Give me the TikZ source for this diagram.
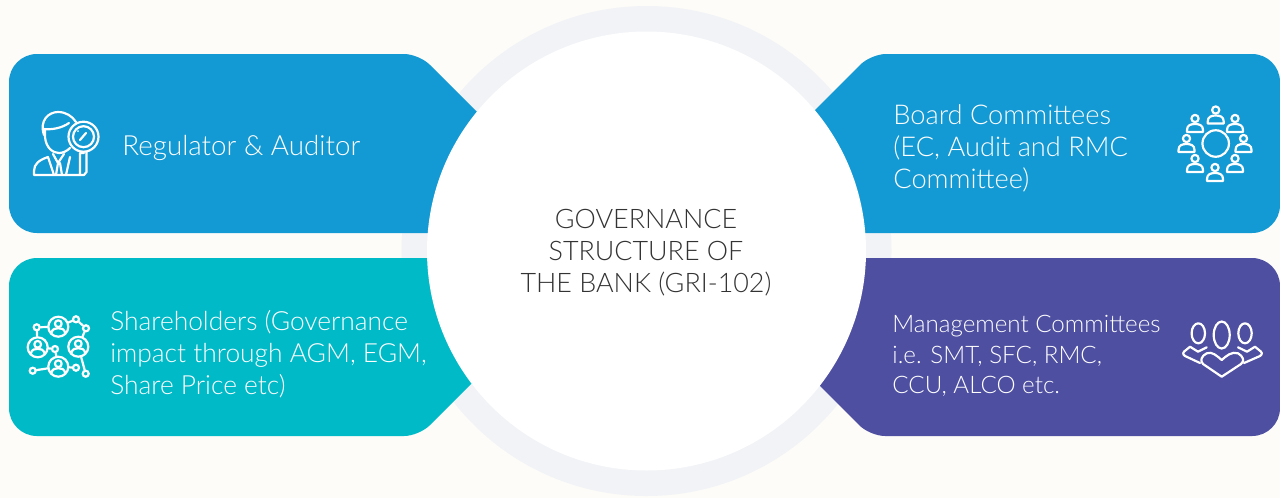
\documentclass[tikz,border=0pt]{standalone}
\usepackage{fontspec}
\setmainfont{Lato}[UprightFont=* Light]
\usetikzlibrary{positioning}
\definecolor{paper}{HTML}{FDFCF8}
\definecolor{ringgrey}{HTML}{F1F3F6}
\definecolor{panelblue}{HTML}{1399D3}
\definecolor{panelteal}{HTML}{00BAC8}
\definecolor{panelpurple}{HTML}{4E4FA1}
\definecolor{titleink}{HTML}{333333}
\tikzset{
  label/.style={text=white,align=left,anchor=west,inner sep=0pt,font=\fontsize{15.5}{18.2}\selectfont},
  title/.style={text=titleink,align=center,inner sep=0pt,font=\fontsize{15.3}{18.2}\selectfont},
  icon/.style={draw=white,line width=1.25pt,line join=round,line cap=round},
  hub/.style={circle,draw=white,line width=1.25pt,inner sep=0pt,minimum size=0.4cm},
  dot/.style={circle,draw=white,line width=1.25pt,inner sep=0pt,minimum size=0.12cm},
  badge/.pic={
    \draw[icon] (0,-3) circle (3.4);
    \draw[icon] (-7,6.5) .. controls (-6,2) and (-3,1.5) .. (0,1.5) .. controls (3,1.5) and (6,2) .. (7,6.5);
  },
  member/.pic={
    \draw[icon] (0,-5) circle (3.6);
    \draw[icon] (-8,8.5) -- (-8,6.5) .. controls (-8,1.5) and (-4,0.5) .. (0,0.5) .. controls (4,0.5) and (8,1.5) .. (8,6.5) -- (8,8.5) -- cycle;
  }
}
\begin{document}
\begin{tikzpicture}[x=0.02cm,y=-0.02cm]
  \useasboundingbox (0,0) rectangle (1280,498);
  \fill[paper] (0,0) rectangle (1280,498);
  \fill[ringgrey] (646.5,251) circle (245);

  \fill[panelblue] (200,233) [rounded corners=0.56cm] -- (9,233) -- (9,54) [rounded corners=0.3cm] -- (419,54) -- (520,155) [sharp corners] -- (520,233) -- cycle;
  \fill[panelteal] (200,258) [rounded corners=0.56cm] -- (9,258) -- (9,436) [rounded corners=0.3cm] -- (419,436) -- (520,335) [sharp corners] -- (520,258) -- cycle;
  \fill[panelblue] (1000,233) [rounded corners=0.56cm] -- (1280,233) -- (1280,54) [rounded corners=0.3cm] -- (871,54) -- (770,155) [sharp corners] -- (770,233) -- cycle;
  \fill[panelpurple] (1000,258) [rounded corners=0.56cm] -- (1280,258) -- (1280,436) [rounded corners=0.3cm] -- (870,436) -- (770,336) [sharp corners] -- (770,258) -- cycle;

  \fill[white] (646.5,251) circle (219.5);

  \node[title] (bank) at (646,252.5) {GOVERNANCE\\STRUCTURE OF\\THE BANK (GRI-102)};
  \node[label,font=\fontsize{15.8}{18.2}\selectfont] (regulator) at (122,147.5) {Regulator \& Auditor};
  \node[label,font=\fontsize{15}{18.2}\selectfont] (holders) at (110,354) {Shareholders (Governance\\impact through AGM, EGM,\\Share Price etc)};
  \node[label] (board) at (893,148.5) {Board Committees\\(EC, Audit and RMC\\Committee)};
  \node[label,font=\fontsize{13.75}{17.2}\selectfont] (management) at (892,356) {Management Committees\\i.e. SMT, SFC, RMC,\\CCU, ALCO etc.};

  \draw[icon] (44,135) .. controls (39,120) and (49,112) .. (58,112) .. controls (66,112) and (72,116) .. (76,122);
  \draw[icon] (43,129) .. controls (52,130) and (62,128) .. (69,123);
  \draw[icon] (45,129) -- (45,137) .. controls (46,148) and (53,153) .. (59,153) .. controls (63,153) and (67,151) .. (70,148);
  \draw[icon] (84,153) -- (80,153) -- (80,175) -- (34,175) -- (34,171) .. controls (34,164) and (39,160) .. (48,157) -- (54,175);
  \draw[icon] (86.5,152) -- (86.5,172) -- (84,175) -- (80,175);
  \draw[icon] (53,154) -- (58,163) -- (64,154) (58,163) -- (56,175) (60,163) -- (62,175) (70,157) -- (66,175);
  \draw[icon] (83.5,136.7) circle (15) (83.5,136.7) circle (10.5);
  \draw[icon] (80,140) -- (86,133);
  \fill[white] (78,131) circle (1);

  \foreach \name/\px/\py in {ha/58.3/326.7,hb/37.7/347.3,hc/78.3/346.7,hd/58.3/366.7}
    \node[hub] (\name) at (\px,\py) {};
  \foreach \name/\px/\py in {da/36.7/327.3,db/76/319.3,dc/86/328.3,dd/55/349,de/32.7/370.7,df/76/367.7,dg/85.7/373.7}
    \node[dot] (\name) at (\px,\py) {};
  \foreach \from/\to in {da/ha,ha/db,db/dc,dc/hc,da/hb,hb/dd,dd/hd,de/hd,hd/df,hc/dg}
    \draw[icon] (\from) -- (\to);
  \foreach \px/\py in {58.3/326.7,37.7/347.3,78.3/346.7,58.3/366.7}
    \pic at (\px,\py) {badge};

  \node[circle,draw=white,line width=1.25pt,inner sep=0pt,minimum size=0.53cm] (table) at (1215.7,143.5) {};
  \foreach \px/\py in {1215.7/115,1235/123.5,1243.5/143.5,1235/163.5,1215/172.5,1195/163.5,1186.5/143.5,1195/123.5}
    \pic at (\px,\py) {member};

  \draw[icon] (1198.3,333.3) ellipse (6.7 and 10);
  \draw[icon] (1221.7,335) ellipse (8 and 13.5);
  \draw[icon] (1245,333.3) ellipse (6.7 and 10);
  \draw[icon] (1221.7,376.7) -- (1203,364) .. controls (1200,361) and (1201,356) .. (1206.7,353.3) .. controls (1212,351) and (1217,356) .. (1221.7,360) .. controls (1226,356) and (1232,351) .. (1238,353.3) .. controls (1243,356) and (1245,361) .. (1241,364) -- cycle;
  \draw[icon] (1200,363) -- (1185,356) .. controls (1182,354) and (1183,352) .. (1186,350) -- (1190,346.7) -- (1198,351.7) -- (1206.7,347.3);
  \draw[icon] (1244,363) -- (1260,356) .. controls (1263,354) and (1262,352) .. (1259,350) -- (1255,346.7) -- (1247,351.7) -- (1238,347.3);
\end{tikzpicture}
\end{document}
